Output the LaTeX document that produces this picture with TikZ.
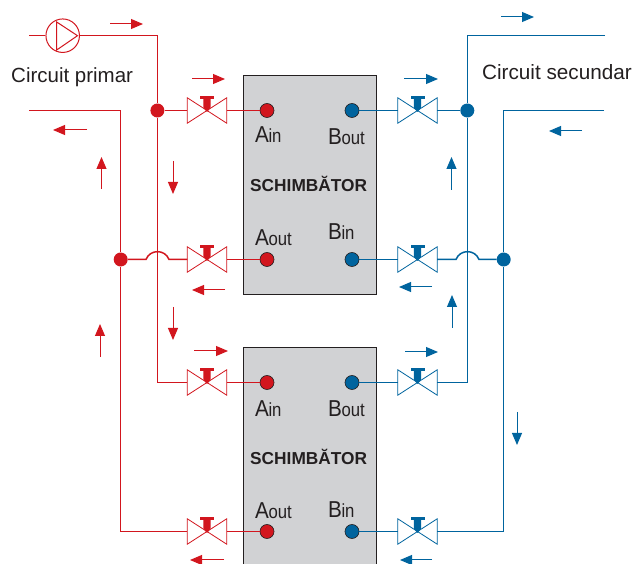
\documentclass[tikz,border=0pt]{standalone}
\usepackage{fontspec}
\setmainfont{Liberation Sans}
\usetikzlibrary{arrows.meta}
\definecolor{redpipe}{HTML}{D2161E}
\definecolor{bluepipe}{HTML}{00649E}
\definecolor{boxgray}{HTML}{D1D2D4}
\definecolor{inktext}{HTML}{231F20}
\tikzset{
    pipe/.style={line width=1.5pt},
    junction/.style={circle,fill,inner sep=0pt,minimum size=14pt},
    port/.style={circle,draw=inktext,line width=0.6pt,inner sep=0pt,minimum size=14pt},
    valvebox/.style={inner sep=0pt,minimum width=39pt,minimum height=25pt},
    flow/.style={line width=1pt,-{Triangle[length=12pt,width=10pt]}},
    hxbox/.style={draw=inktext,line width=1.1pt,fill=boxgray,inner sep=0pt,anchor=north west,minimum width=133pt},
    txt/.style={inner sep=0pt,anchor=base west,text=inktext},
}
\newcommand{\portlabel}[2]{\scalebox{0.9}[1]{\fontsize{23}{23}\selectfont #1}\kern-0.5pt\scalebox{0.88}[1]{\fontsize{19}{19}\selectfont #2}}
\newcommand{\hxtitle}{\fontsize{17.3}{17.3}\selectfont\bfseries SCHIMBĂTOR}
\newcommand{\valve}[4]{%
    \node[valvebox] (#1) at (#2,#3) {};
    \draw[#4,line width=0.8pt,fill=white] (#1.north west) -- (#1.south east) -- (#1.north east) -- (#1.south west) -- cycle;
    \fill[#4] (#2-3.7,#3-11.5) -- (#2+3.7,#3-11.5) -- (#2+3.7,#3-3) -- (#2,#3+1.5) -- (#2-3.7,#3-3) -- cycle;
    \fill[#4] (#2-7,#3-14) rectangle (#2+7,#3-11.5);
}
\begin{document}
\begin{tikzpicture}[x=1pt,y=-1pt]
    \useasboundingbox (0,0) rectangle (633,564);
    \clip (0,0) rectangle (633,564);

    % Exchangers %
    \node[hxbox,minimum height=219pt] (hxa) at (243,75) {};
    \node[hxbox,minimum height=230pt] (hxb) at (243,347) {};

    % Valves %
    \valve{vra}{207}{110.5}{redpipe}
    \valve{vrb}{207}{259.5}{redpipe}
    \valve{vrc}{207}{382.5}{redpipe}
    \valve{vrd}{207}{531.5}{redpipe}
    \valve{vba}{417.5}{110.5}{bluepipe}
    \valve{vbb}{417.5}{259.5}{bluepipe}
    \valve{vbc}{417.5}{382.5}{bluepipe}
    \valve{vbd}{417.5}{531.5}{bluepipe}

    % Ports and junctions %
    \foreach \name/\xp/\yp in {pra/267/110.5,prb/267/259.5,prc/267/382.5,prd/267/531.5}
        \node[port,fill=redpipe] (\name) at (\xp,\yp) {};
    \foreach \name/\xp/\yp in {pba/352/110.5,pbb/352/259.5,pbc/352/382.5,pbd/352/531.5}
        \node[port,fill=bluepipe] (\name) at (\xp,\yp) {};
    \node[junction,redpipe] (jra) at (157.4,110.5) {};
    \node[junction,redpipe] (jrb) at (120.7,259.5) {};
    \node[junction,bluepipe] (jba) at (467.3,110.5) {};
    \node[junction,bluepipe] (jbb) at (503.7,259.5) {};

    % Pump %
    \node[circle,draw=redpipe,line width=1pt,fill=white,inner sep=0pt,minimum size=33.5pt] (pump) at (62.7,35.7) {};
    \draw[redpipe,line width=1pt] (56.7,22) -- (77.5,35.7) -- (56.7,50) -- cycle;

    % Free ends and corners %
    \coordinate (rin) at (29,35.7);
    \coordinate (rout) at (29,110.5);
    \coordinate (bout) at (605,35.7);
    \coordinate (bin) at (604,110.5);
    \coordinate (rhopa) at (146,259.5);
    \coordinate (rhopb) at (169,259.5);
    \coordinate (bhopa) at (456,259.5);
    \coordinate (bhopb) at (479,259.5);

    % Primary circuit %
    \draw[pipe,redpipe] (rin) -- (pump.west);
    \draw[pipe,redpipe] (pump.east) -| (jra);
    \draw[pipe,redpipe] (jra) |- (vrc.west);
    \draw[pipe,redpipe] (jra) -- (vra.west);
    \draw[pipe,redpipe] (vra.east) -- (pra);
    \draw[pipe,redpipe] (rout) -| (jrb);
    \draw[pipe,redpipe] (jrb) |- (vrd.west);
    \draw[pipe,redpipe] (jrb) -- (rhopa) .. controls (150,249) and (165,249) .. (rhopb) -- (vrb.west);
    \draw[pipe,redpipe] (vrb.east) -- (prb);
    \draw[pipe,redpipe] (vrc.east) -- (prc);
    \draw[pipe,redpipe] (vrd.east) -- (prd);

    % Secondary circuit %
    \draw[pipe,bluepipe] (bout) -| (jba);
    \draw[pipe,bluepipe] (jba) |- (vbc.east);
    \draw[pipe,bluepipe] (jba) -- (vba.east);
    \draw[pipe,bluepipe] (vba.west) -- (pba);
    \draw[pipe,bluepipe] (bin) -| (jbb);
    \draw[pipe,bluepipe] (jbb) |- (vbd.east);
    \draw[pipe,bluepipe] (jbb) -- (bhopb) .. controls (475,249) and (460,249) .. (bhopa) -- (vbb.east);
    \draw[pipe,bluepipe] (vbb.west) -- (pbb);
    \draw[pipe,bluepipe] (vbc.west) -- (pbc);
    \draw[pipe,bluepipe] (vbd.west) -- (pbd);

    % Flow arrows %
    \foreach \xa/\ya/\xb/\yb in {110/24/143/24,192/79/225/79,87/130/53/130,101.5/189/101.5/157,173/161/173/194,225/290/192/290,100/357/100/324,173/307/173/340,194/351/228/351,224/560/190/560}
        \draw[flow,redpipe] (\xa,\ya) -- (\xb,\yb);
    \foreach \xa/\ya/\xb/\yb in {501/17/534/17,404/79/438/79,582/131/549/131,451.5/190/451.5/157,432/287/399/287,452/328/452/295,405/352/438/352,517/412/517/445,432/560/400/560}
        \draw[flow,bluepipe] (\xa,\ya) -- (\xb,\yb);

    % Labels %
    \node[txt,font=\fontsize{20.5}{20.5}\selectfont] (lprim) at (11,83) {Circuit primar};
    \node[txt,font=\fontsize{20.7}{20.7}\selectfont] (lsec) at (482,80) {Circuit secundar};
    \node[txt] (lhxa) at (250,192) {\hxtitle};
    \node[txt] (lhxb) at (250,465) {\hxtitle};
    \node[txt] (lain) at (255,143) {\portlabel{A}{in}};
    \node[txt] (lbout) at (328,145) {\portlabel{B}{out}};
    \node[txt] (laout) at (255,246) {\portlabel{A}{out}};
    \node[txt] (lbin) at (328,240) {\portlabel{B}{in}};
    \node[txt] (lainb) at (255,417) {\portlabel{A}{in}};
    \node[txt] (lboutb) at (328,417) {\portlabel{B}{out}};
    \node[txt] (laoutb) at (255,519) {\portlabel{A}{out}};
    \node[txt] (lbinb) at (328,518) {\portlabel{B}{in}};
\end{tikzpicture}
\end{document}
